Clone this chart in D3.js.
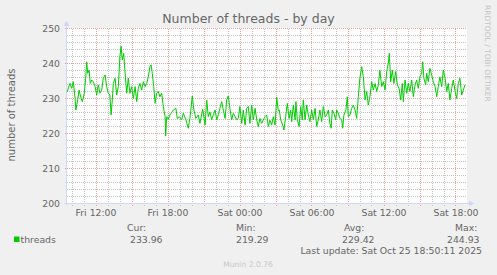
<!DOCTYPE html>
<html>
<head>
<meta charset="utf-8">
<script src="https://cdn.jsdelivr.net/npm/d3@7"></script>
<style>
  html, body { margin: 0; padding: 0; background: #F0F0F0; }
  svg { display: block; font-family: "DejaVu Sans", sans-serif; }
</style>
</head>
<body>
<svg id="chart" width="497" height="275"></svg>
<script>
// ---- data ----
const title = "Number of threads - by day";
const yAxisLabel = "number of threads";
const seriesName = "threads";
// minutes relative to Fri Oct 24 2025 12:00
const offsetsMin = [
-142,-128,-119,-111,-102,-98,-89,-82,-72,-66,-56,-49,-44,-39,-32,-26,-19,-11,-2,6,
14,22,31,39,48,56,64,72,78,84,89,98,106,114,122,128,134,141,148,156,
164,172,181,189,198,206,214,222,231,239,248,256,264,272,278,284,291,298,306,314,
322,331,339,348,351,356,364,372,389,402,409,419,431,439,452,464,472,484,492,502,
514,522,536,548,556,564,572,581,589,598,606,614,622,631,639,648,656,664,672,681,
689,698,706,714,722,731,739,748,756,764,772,781,789,798,806,814,822,831,839,848,
856,864,872,881,889,898,906,914,919,926,936,942,951,959,968,976,981,989,998,1002,
1009,1018,1026,1034,1039,1048,1056,1064,1072,1081,1089,1098,1106,1114,1122,1131,1139,1148,1156,1164,
1172,1178,1184,1192,1201,1206,1214,1222,1231,1236,1242,1252,1259,1264,1272,1281,1289,1298,1306,1314,
1322,1331,1339,1348,1356,1364,1372,1381,1389,1398,1406,1414,1422,1431,1439,1448,1456,1464,1469,1476,
1484,1492,1501,1509,1518,1526,1534,1539,1548,1556,1564,1572,1581,1589,1598,1606,1614,1622,1631,1636,
1642,1651,1656,1664,1672,1681,1689,1698,1706,1714,1722,1731,1739,1748,1756,1764,1772,1781,1789,1798,
1806,1814,1822,1831,1839,1848
];
const threads = [
231.8,234.3,232.9,234.8,230.0,226.7,229.6,232.4,230.0,229.1,231.5,235.8,240.5,237.2,238.1,234.3,235.3,234.8,233.4,231.0,
233.9,231.5,232.4,235.8,236.7,233.4,231.5,231.0,225.3,229.6,234.3,235.8,231.0,233.4,242.0,244.93,241.0,242.9,237.2,231.5,
235.8,231.5,233.4,230.0,233.4,229.1,232.9,234.3,232.4,234.8,233.4,234.3,236.2,239.1,239.6,237.2,233.4,228.6,231.5,232.0,
230.5,231.5,227.7,224.8,219.29,224.8,224.1,225.3,226.7,227.2,224.3,224.8,223.9,225.8,223.9,221.5,224.3,230.7,226.7,224.3,
225.3,222.9,226.9,222.4,229.6,224.8,226.2,223.9,225.3,226.7,223.9,225.3,227.2,229.1,226.7,224.3,229.6,230.7,227.2,223.9,
225.8,224.8,223.9,224.3,227.7,222.9,226.7,222.4,227.2,227.7,222.9,228.1,223.9,227.2,223.9,222.0,224.3,222.9,223.9,224.8,
225.3,222.0,223.8,222.4,224.8,222.4,230.3,226.5,226.7,223.9,222.4,221.0,224.8,228.6,224.3,226.7,223.4,228.1,223.9,229.1,
223.9,222.0,227.7,223.9,229.6,223.9,228.1,225.3,223.4,226.7,223.9,227.2,222.0,223.9,226.7,223.4,227.7,224.8,225.3,226.7,
222.9,221.5,226.7,225.8,223.9,226.7,225.8,224.3,223.9,221.5,225.3,226.7,230.5,224.8,225.3,227.2,228.1,226.7,224.3,230.5,
235.8,239.1,236.2,229.6,232.0,228.1,230.5,234.8,232.4,234.3,232.0,233.9,238.1,233.4,234.8,232.4,237.7,240.0,242.9,234.8,
238.1,234.3,237.7,233.9,232.9,229.6,234.3,229.1,235.3,231.5,234.3,232.0,235.3,230.5,233.9,235.3,232.9,236.2,237.2,240.5,
235.8,233.9,237.2,234.8,238.6,236.7,234.8,233.4,230.5,233.4,236.2,233.4,238.1,235.8,232.0,234.3,229.6,232.9,235.3,232.0,
230.0,234.3,235.8,231.0,232.4,233.96
];
const yTicks = [200, 210, 220, 230, 240, 250];
const xTickHours = [0, 6, 12, 18, 24, 30];
const xTickLabels = ["Fri 12:00", "Fri 18:00", "Sat 00:00", "Sat 06:00", "Sat 12:00", "Sat 18:00"];
const statLabels = ["Cur:", "Min:", "Avg:", "Max:"];
const statValues = ["233.96", "219.29", "229.42", "244.93"];
const lastUpdate = "Last update: Sat Oct 25 18:50:11 2025";
const footer = "Munin 2.0.76";
const sideText = "RRDTOOL / TOBI OETIKER";

// ---- layout ----
const base = new Date(2025, 9, 24, 12, 0, 0);
const minutes = m => new Date(base.getTime() + m * 60000);
const L = 67, R = 467, T = 28.5, B = 203.5;
const FONT = "#666666";
const svg = d3.select("#chart");

const x = d3.scaleTime().domain([minutes(-142.5), minutes(1857.5)]).range([L, R]);
const y = d3.scaleLinear().domain([200, 250]).range([B, T]);

svg.append("rect").attr("x", 0).attr("y", 0).attr("width", 497).attr("height", 275).attr("fill", "#F0F0F0");
svg.append("rect").attr("x", L).attr("y", T - 0.5).attr("width", R - L).attr("height", B - T + 0.5).attr("fill", "#FFFFFF");

// minor grid
const g = svg.append("g").attr("shape-rendering", "crispEdges");
const MINOR = "#c4c4c4", MAJOR = "#e8a2a2";
const minorY = d3.range(202, 250, 2).filter(v => v % 10 !== 0);
g.selectAll(".hmin").data(minorY).join("line")
  .attr("x1", L).attr("x2", R).attr("y1", d => y(d)).attr("y2", d => y(d))
  .attr("stroke", MINOR).attr("stroke-dasharray", "1,1");
const hours = d3.timeHour.range(x.domain()[0], x.domain()[1]);
const minorX = hours.filter(d => d.getHours() % 3 !== 0);
g.selectAll(".vmin").data(minorX).join("line")
  .attr("x1", d => Math.round(x(d)) + 0.5).attr("x2", d => Math.round(x(d)) + 0.5)
  .attr("y1", T).attr("y2", B + 2)
  .attr("stroke", MINOR).attr("stroke-dasharray", "1,1");
// major grid
const majorX = hours.filter(d => d.getHours() % 3 === 0);
g.selectAll(".vmaj").data(majorX).join("line")
  .attr("x1", d => Math.round(x(d)) + 0.5).attr("x2", d => Math.round(x(d)) + 0.5)
  .attr("y1", T).attr("y2", B + 2)
  .attr("stroke", MAJOR).attr("stroke-dasharray", "1,1");
g.selectAll(".hmaj").data(yTicks.filter(v => v !== 200)).join("line")
  .attr("x1", L - 2).attr("x2", R).attr("y1", d => y(d)).attr("y2", d => y(d))
  .attr("stroke", MAJOR).attr("stroke-dasharray", "1,1");

// data line
const pts = offsetsMin.map((m, i) => ({ t: minutes(m), v: threads[i] }));
svg.append("path").datum(pts)
  .attr("fill", "none").attr("stroke", "#00CC00").attr("stroke-width", 1)
  .attr("d", d3.line().x(d => x(d.t)).y(d => y(d.v)));

// axes lines + arrows
const AX = "#CFD6F8";
svg.append("line").attr("x1", L - 0.5).attr("x2", L - 0.5).attr("y1", B + 2).attr("y2", 25).attr("stroke", AX);
svg.append("path").attr("d", `M${L - 3.5},26 L${L - 0.5},20.5 L${L + 2.5},26 Z`).attr("fill", AX);
svg.append("line").attr("x1", L - 3).attr("x2", R + 3).attr("y1", B).attr("y2", B).attr("stroke", AX);
svg.append("path").attr("d", `M${R + 2},${B - 3} L${R + 7.5},${B} L${R + 2},${B + 3} Z`).attr("fill", AX);

// y axis labels
const yAxis = svg.append("g").attr("transform", `translate(${L},0)`)
  .call(d3.axisLeft(y).tickValues(yTicks).tickSize(0).tickPadding(7).tickFormat(d3.format("d")));
yAxis.select(".domain").remove();
yAxis.selectAll("text").attr("fill", FONT).style("font-size", "9.3px").style("font-family", "DejaVu Sans").attr("dy", "0.36em");

// x axis labels
const xAxis = svg.append("g").attr("transform", `translate(0,${B})`)
  .call(d3.axisBottom(x).tickValues(xTickHours.map(h => minutes(h * 60)))
    .tickSize(0).tickPadding(6).tickFormat((d, i) => xTickLabels[i]));
xAxis.select(".domain").remove();
xAxis.selectAll("text").attr("fill", FONT).style("font-size", "9.3px").style("font-family", "DejaVu Sans");

// title
svg.append("text").attr("x", 248.5).attr("y", 23).attr("text-anchor", "middle")
  .attr("fill", FONT).style("font-size", "12.5px").text(title);
// y label
svg.append("text").attr("transform", "translate(14.5,115) rotate(-90)").attr("text-anchor", "middle")
  .attr("fill", FONT).style("font-size", "10px").text(yAxisLabel);
// side text
svg.append("text").attr("transform", "translate(485,5) rotate(90)").attr("text-anchor", "start")
  .attr("fill", "#c4c4c4").style("font-size", "7.5px").text(sideText);

// legend
const hdrX = [127, 236, 344, 455];
const valX = [130, 236, 342, 447];
svg.selectAll(".hdr").data(statLabels).join("text")
  .attr("x", (d, i) => hdrX[i]).attr("y", 231).attr("fill", FONT).style("font-size", "9.3px").text(d => d);
svg.selectAll(".val").data(statValues).join("text")
  .attr("x", (d, i) => valX[i]).attr("y", 242.6).attr("fill", FONT).style("font-size", "9.3px").text(d => d);
svg.append("rect").attr("x", 14).attr("y", 236.5).attr("width", 5.5).attr("height", 5.5).attr("fill", "#00CC00");
svg.append("text").attr("x", 20.5).attr("y", 242.6).attr("fill", FONT).style("font-size", "9.3px").text(seriesName);
svg.append("text").attr("x", 482).attr("y", 254.3).attr("text-anchor", "end")
  .attr("fill", FONT).style("font-size", "9.3px").text(lastUpdate);
svg.append("text").attr("x", 248).attr("y", 267).attr("text-anchor", "middle")
  .attr("fill", "#c8c8c8").style("font-size", "7.6px").text(footer);
</script>
</body>
</html>
